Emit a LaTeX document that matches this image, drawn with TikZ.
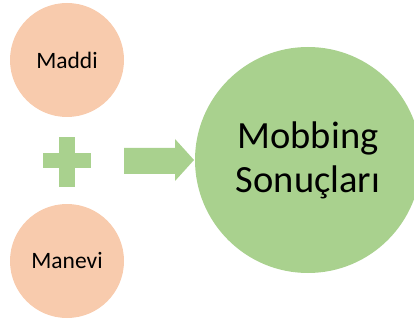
\documentclass[tikz,border=0pt]{standalone}
\usepackage{fontspec}
\setmainfont{Carlito}
\definecolor{peach}{HTML}{F8CBAD}
\definecolor{lgreen}{HTML}{A9D18E}
\begin{document}
\begin{tikzpicture}[x=1pt,y=-1pt,
  small/.style={circle,fill=peach,minimum size=114pt,inner sep=0pt,font=\fontsize{23.5}{28}\selectfont},
  big/.style={circle,fill=lgreen,minimum size=226pt,inner sep=0pt,align=center,font=\fontsize{38.5}{44}\selectfont},
  glyph/.style={fill=lgreen}]
\useasboundingbox (0,0) rectangle (414,320);
\begin{scope}
\clip (0,0) rectangle (414,320);
\node[big] (res) at (308,160) {Mobbing\\Sonuçları};
\end{scope}
\node[small] (mad) at (67,60) {Maddi};
\node[small] (man) at (67,261) {Manevi};
\fill[glyph] (43,153) rectangle (91,168);
\fill[glyph] (59,137) rectangle (75,187);
\fill[glyph] (124,148) -- (175,148) -- (175,139) -- (194,160) -- (175,181) -- (175,174) -- (124,174) -- cycle;
\end{tikzpicture}
\end{document}
